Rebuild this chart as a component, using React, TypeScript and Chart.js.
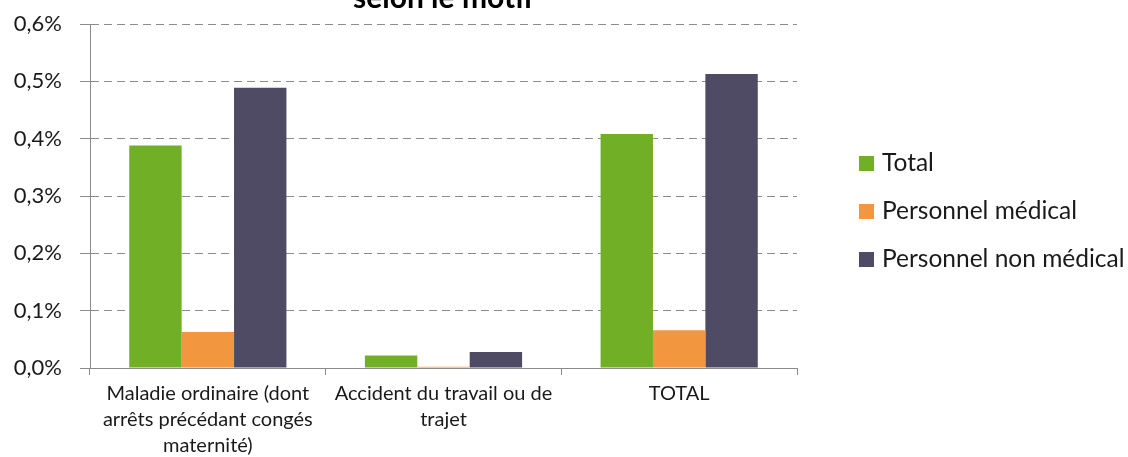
import React, { useEffect, useRef } from "react";
import { Chart, registerables } from "chart.js";

Chart.register(...registerables);

const categories: string[][] = [
  ["Maladie ordinaire (dont", "arrêts précédant congés", "maternité)"],
  ["Accident du travail ou de", "trajet"],
  ["TOTAL"],
];
const seriesNames = ["Total", "Personnel médical", "Personnel non médical"];
const totalValues = [0.388, 0.022, 0.408];
const medicalValues = [0.063, 0.002, 0.066];
const nonMedicalValues = [0.489, 0.028, 0.513];
const seriesColors = ["#71B026", "#F2973F", "#504B64"];
const yMin = 0;
const yMax = 0.6;
const yStep = 0.1;
const titleText = "selon le motif";

const FONT = "Lato, 'Open Sans', sans-serif";
const OFFSET = 40; // canvas shifted up so the title's first part is cut off
const W = 1128;
const H = 457;

const legendPlugin = {
  id: "sideLegend",
  afterDraw(chart: any) {
    const { ctx, chartArea } = chart;
    const x0 = chartArea.right + 62;
    const yCenter = chartArea.top + (chartArea.bottom - chartArea.top) / 2 + 15.5;
    const gap = 48;
    ctx.save();
    ctx.font = `24.5px ${FONT}`;
    ctx.textBaseline = "middle";
    ctx.textAlign = "left";
    chart.data.datasets.forEach((ds: any, i: number) => {
      const y = yCenter + (i - 1) * gap;
      ctx.fillStyle = ds.backgroundColor;
      ctx.fillRect(x0, y - 7.5, 15, 15);
      ctx.fillStyle = "#1a1a1a";
      ctx.fillText(ds.label, x0 + 23, y);
    });
    ctx.restore();
  },
};

export default function App() {
  const ref = useRef<HTMLCanvasElement>(null);

  useEffect(() => {
    if (!ref.current) return;
    const chart = new Chart(ref.current, {
      type: "bar",
      data: {
        labels: categories,
        datasets: [
          { label: seriesNames[0], data: totalValues, backgroundColor: seriesColors[0] },
          { label: seriesNames[1], data: medicalValues, backgroundColor: seriesColors[1] },
          { label: seriesNames[2], data: nonMedicalValues, backgroundColor: seriesColors[2] },
        ],
      },
      plugins: [legendPlugin],
      options: {
        responsive: false,
        animation: false,
        maintainAspectRatio: false,
        datasets: {
          bar: { categoryPercentage: 0.667, barPercentage: 1 },
        },
        layout: { padding: { left: 0, right: W - 797, top: 0, bottom: 0 } },
        plugins: {
          legend: { display: false },
          tooltip: { enabled: false },
          title: {
            display: true,
            text: titleText,
            fullSize: false,
            color: "#000",
            font: { family: FONT, size: 30, weight: "bold", lineHeight: 1.2 },
            padding: { top: 20, bottom: 8 },
          },
        },
        scales: {
          x: {
            grid: {
              display: true,
              drawOnChartArea: false,
              drawTicks: true,
              tickLength: 7,
              offset: true,
              color: "#8c8c8c",
            },
            border: { display: true, color: "#8c8c8c", width: 1 },
            ticks: {
              color: "#1a1a1a",
              font: { family: FONT, size: 20, lineHeight: 1.3 },
              padding: 6,
              maxRotation: 0,
              autoSkip: false,
            },
            afterFit: (s: any) => {
              s.height = H + OFFSET - (368 + OFFSET);
            },
          },
          y: {
            min: yMin,
            max: yMax,
            ticks: {
              stepSize: yStep,
              color: "#1a1a1a",
              font: { family: FONT, size: 22 },
              padding: 18,
              callback: (v: any) => Number(v).toFixed(1).replace(".", ",") + "%",
            },
            grid: {
              color: "#8c8c8c",
              lineWidth: 1,
              drawTicks: true,
              tickLength: 10,
              tickColor: "#8c8c8c",
              tickBorderDash: [],
            },
            border: { display: true, color: "#8c8c8c", width: 1, dash: [8, 5] },
            afterFit: (s: any) => {
              s.width = 90;
            },
          },
        },
      },
    });
    return () => chart.destroy();
  }, []);

  return (
    <div
      style={{
        position: "fixed",
        left: 0,
        top: 0,
        width: W,
        height: H,
        overflow: "hidden",
        background: "#fff",
      }}
    >
      <canvas
        ref={ref}
        width={W}
        height={H + OFFSET}
        style={{ position: "absolute", left: 0, top: -OFFSET, width: W, height: H + OFFSET }}
      />
    </div>
  );
}
